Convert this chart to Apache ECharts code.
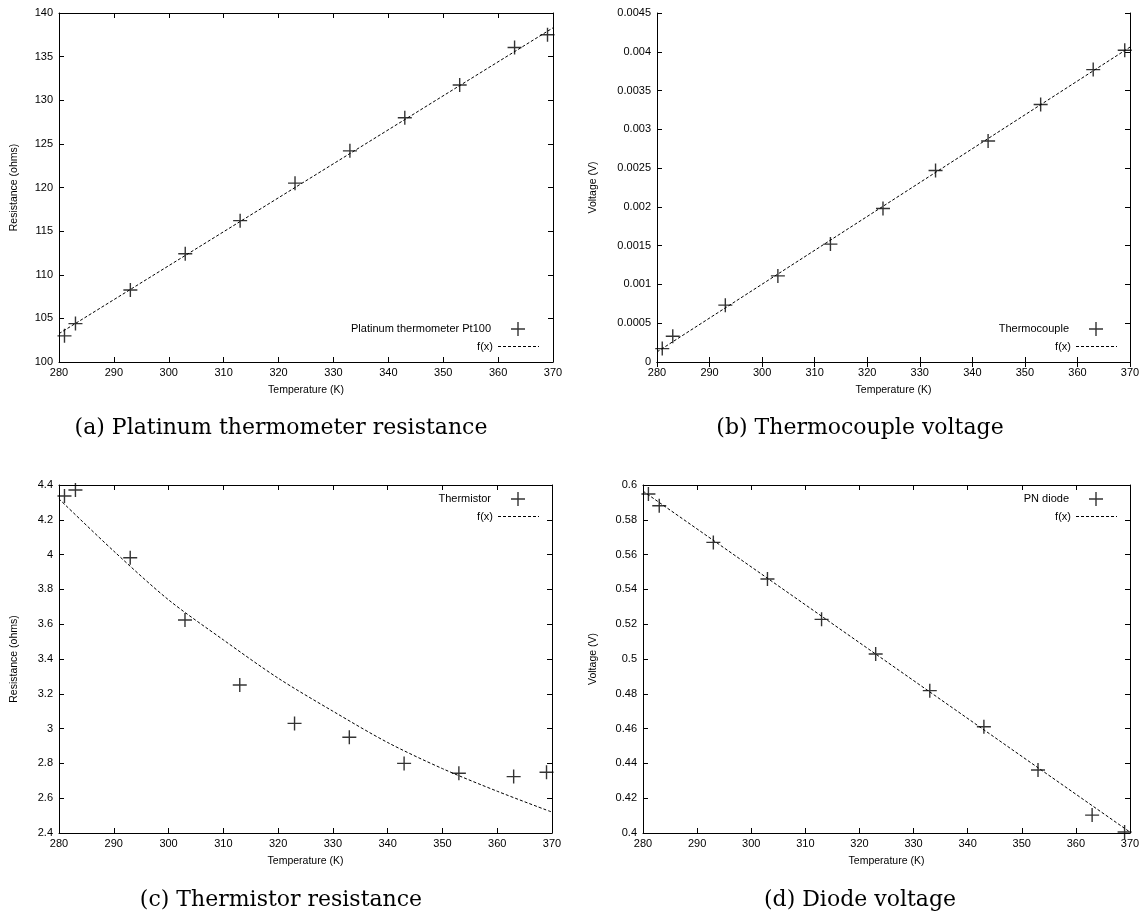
<!DOCTYPE html>
<html>
<head>
<meta charset="utf-8">
<title>Sensor calibration</title>
<script src="https://cdn.jsdelivr.net/npm/echarts@6/dist/echarts.min.js"></script>
<style>
  html, body { margin: 0; padding: 0; background: #fff; }
  #main { width: 1145px; height: 916px; }
</style>
</head>
<body>
<div id="main"></div>
<script>
// measured points (temperature in K)
var temps = [281, 283, 293, 303, 313, 323, 333, 343, 353, 363, 369];
var ptResist = [103.0, 104.4, 108.25, 112.4, 116.2, 120.5, 124.2, 128.0, 131.75, 136.05, 137.5];
var tcVolt = [0.000173, 0.000332, 0.000733, 0.00111, 0.00152, 0.00198, 0.00247, 0.00285, 0.00332, 0.00377, 0.00402];
var thermResist = [4.337, 4.371, 3.982, 3.624, 3.251, 3.030, 2.950, 2.800, 2.743, 2.724, 2.749];
var diodeVolt = [0.5948, 0.5881, 0.5670, 0.5460, 0.5228, 0.5029, 0.4818, 0.4611, 0.4362, 0.4103, 0.4006];

// fitted curves f(x)
var fitEnds = [280, 370];
var ptFit = [103.25, 138.3];
var tcFit = [0.00013, 0.00406];
var diodeFit = [0.5965, 0.4005];
var thermFitTemps = [280, 290, 300, 310, 320, 330, 340, 350, 360, 370];
var thermFit = [4.32, 4.02, 3.74, 3.51, 3.29, 3.10, 2.92, 2.77, 2.64, 2.52];

var captions = ['(a) Platinum thermometer resistance', '(b) Thermocouple voltage',
                '(c) Thermistor resistance', '(d) Diode voltage'];

window.onload = function(){
  var plusIcon = 'path://M0,9H20V11H0Z M9,0H11V20H9Z';
  // dashed legend sample for f(x): 3 on / 2 off
  var dashIcon = 'path://';
  for (var d = 0; d < 41; d += 5) {
    var e = Math.min(d + 3, 41);
    dashIcon += 'M' + d + ',0H' + e + 'V1H' + d + 'Z';
  }
  var sans = 'Liberation Sans';

  function pairs(xs, ys){
    var out = [];
    for (var i = 0; i < xs.length; i++) out.push([xs[i], ys[i]]);
    return out;
  }

  // one panel = grid + bottom/top x axes + left/right y axes
  var panels = [
    {grid:{left:59, top:13, width:494, height:349}, yName:'Resistance (ohms)', yGap:39,
     ymin:100, ymax:140, yint:5, name:'Platinum thermometer Pt100', data:ptResist,
     fitX:fitEnds, fitY:ptFit, smooth:false, legRight:606, legTop:322},
    {grid:{left:657, top:13, width:473, height:349}, yName:'Voltage (V)', yGap:58,
     ymin:0, ymax:0.0045, yint:0.0005, name:'Thermocouple', data:tcVolt,
     fitX:fitEnds, fitY:tcFit, smooth:false, legRight:28, legTop:322},
    {grid:{left:59, top:485, width:493, height:348}, yName:'Resistance (ohms)', yGap:39,
     ymin:2.4, ymax:4.4, yint:0.2, name:'Thermistor', data:thermResist,
     fitX:thermFitTemps, fitY:thermFit, smooth:0.3, legRight:606, legTop:492},
    {grid:{left:643, top:485, width:487, height:348}, yName:'Voltage (V)', yGap:44,
     ymin:0.4, ymax:0.6, yint:0.02, name:'PN diode', data:diodeVolt,
     fitX:fitEnds, fitY:diodeFit, smooth:false, legRight:28, legTop:492}
  ];

  var grids = [], xAxes = [], yAxes = [], series = [], legends = [], texts = [];
  var lineSt = {lineStyle:{color:'#000', width:1}};

  panels.forEach(function(p, i){
    grids.push(p.grid);
    var xBase = {
      type:'value', gridIndex:i, min:280, max:370, interval:10,
      axisLine:lineSt, axisTick:{inside:true, length:5, lineStyle:{color:'#000'}},
      splitLine:{show:false}
    };
    xAxes.push(Object.assign({}, xBase, {
      position:'bottom', name:'Temperature (K)', nameLocation:'middle', nameGap:23,
      nameTextStyle:{fontFamily:sans, fontSize:10.5, color:'#000'},
      axisLabel:{fontFamily:sans, fontSize:11, color:'#000', margin:5}
    }));
    xAxes.push(Object.assign({}, xBase, {position:'top', axisLabel:{show:false}}));

    var yBase = {
      type:'value', gridIndex:i, min:p.ymin, max:p.ymax, interval:p.yint,
      axisLine:lineSt, axisTick:{inside:true, length:5, lineStyle:{color:'#000'}},
      splitLine:{show:false}
    };
    yAxes.push(Object.assign({}, yBase, {
      position:'left', name:p.yName, nameLocation:'middle', nameGap:p.yGap,
      nameTextStyle:{fontFamily:sans, fontSize:10.5, color:'#000'},
      axisLabel:{fontFamily:sans, fontSize:11, color:'#000', margin:6}
    }));
    yAxes.push(Object.assign({}, yBase, {position:'right', axisLabel:{show:false}}));

    // measured points (plus marks)
    series.push({
      type:'scatter', name:p.name, xAxisIndex:2*i, yAxisIndex:2*i,
      symbol:plusIcon, symbolSize:14, itemStyle:{color:'#000'},
      data:pairs(temps, p.data), z:3
    });
    // fit
    series.push({
      type:'line', name:'f(x)', xAxisIndex:2*i, yAxisIndex:2*i,
      symbol:'none', smooth:p.smooth, itemStyle:{color:'#000'},
      lineStyle:{color:'#000', width:1, type:[3, 2]},
      data:pairs(p.fitX, p.fitY), z:2
    });

    // plus sample sits in the middle of the 41px key column
    legends.push({
      data:[{name:p.name, icon:plusIcon}], right:p.legRight + 14, top:p.legTop, padding:0,
      orient:'vertical', align:'right', itemWidth:14, itemHeight:14,
      itemStyle:{color:'#000'}, selectedMode:false,
      textStyle:{fontFamily:sans, fontSize:11, color:'#000', padding:[0, 15, 0, 0]}
    });
    legends.push({
      data:[{name:'f(x)', icon:dashIcon}], right:p.legRight, top:p.legTop + 19, padding:0,
      orient:'vertical', align:'right', itemWidth:41, itemHeight:14,
      itemStyle:{color:'#000'}, selectedMode:false,
      textStyle:{fontFamily:sans, fontSize:11, color:'#000'}
    });

    texts.push({
      type:'text', x:(i % 2 === 0 ? 281 : 860), y:(i < 2 ? 428 : 900),
      style:{text:captions[i], fill:'#000', font:'22px "DejaVu Serif"',
             textAlign:'center', textVerticalAlign:'middle'}
    });
  });

  var option = {
    backgroundColor:'#fff',
    animation:false,
    grid:grids,
    xAxis:xAxes,
    yAxis:yAxes,
    legend:legends,
    series:series,
    graphic:texts
  };

  var myChart = echarts.init(document.getElementById('main'));
  myChart.setOption(option);
};
</script>
</body>
</html>
